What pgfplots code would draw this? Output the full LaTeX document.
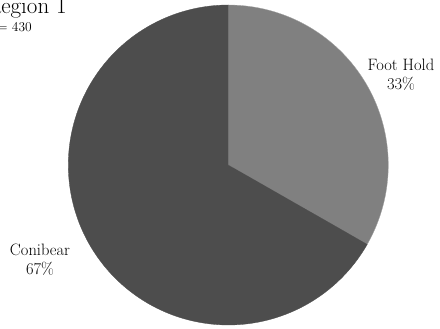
\documentclass[border=0pt]{standalone}
\usepackage{pgfplots}
\pgfplotsset{compat=1.18}
\definecolor{footcol}{RGB}{128,128,128}
\definecolor{conicol}{RGB}{77,77,77}
% counts (n = 430)
\def\foothold{143}
\def\conibear{287}
\begin{document}
\begin{tikzpicture}
\useasboundingbox (0,0) rectangle (440pt,329pt);
\clip (0,0) rectangle (440pt,329pt);
\pgfmathsetmacro\total{\foothold+\conibear}
\pgfmathsetmacro\aA{90}
\pgfmathsetmacro\aB{90-360*(\foothold/\total)}
\pgfmathsetmacro\aC{\aB-360*(\conibear/\total)}
\begin{axis}[
  scale only axis, width=440pt, height=329pt,
  xmin=0, xmax=440, ymin=0, ymax=329,
  hide axis, clip=false,
]
\addplot[fill=footcol, draw=footcol!70!white, line width=0.3pt, domain=\aB:\aA, samples=120, variable=\t]
  ({228.3+160*cos(\t)},{164+160*sin(\t)}) -- (axis cs:228.3,164) -- cycle;
\addplot[fill=conicol, draw=conicol, line width=0.3pt, domain=\aC:\aB, samples=200, variable=\t]
  ({228.3+160*cos(\t)},{164+160*sin(\t)}) -- (axis cs:228.3,164) -- cycle;
\node[anchor=base, inner sep=0pt, font=\fontsize{16.5}{19}\selectfont] at (axis cs:401,258) {Foot Hold};
\node[anchor=base, inner sep=0pt, font=\fontsize{16.5}{19}\selectfont] at (axis cs:401,239) {33\%};
\node[anchor=base, inner sep=0pt, font=\fontsize{16.5}{19}\selectfont] at (axis cs:40,73) {Conibear};
\node[anchor=base, inner sep=0pt, font=\fontsize{16.5}{19}\selectfont] at (axis cs:40,54) {67\%};
\node[anchor=base east, inner sep=0pt, font=\fontsize{23}{26}\selectfont] at (axis cs:67,315) {Region 1};
\node[anchor=base east, inner sep=0pt, font=\fontsize{13.5}{15}\selectfont] at (axis cs:32,297) {n = 430};
\end{axis}
\end{tikzpicture}
\end{document}
